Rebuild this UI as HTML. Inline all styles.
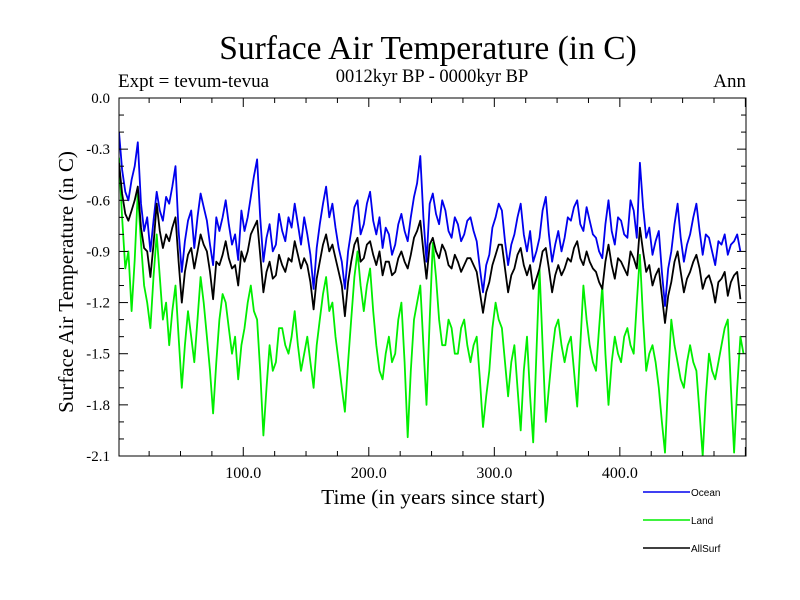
<!DOCTYPE html>
<html><head><meta charset="utf-8"><style>
body{margin:0;background:#fff;}
svg{display:block;font-family:"Liberation Serif",serif;}
</style></head><body>
<svg id="chart" width="800" height="600">
<defs><clipPath id="clip"><rect x="119" y="98" width="627" height="358"/></clipPath></defs>
<text x="428" y="59" font-size="33.5" text-anchor="middle">Surface Air Temperature (in C)</text>
<text x="118" y="87" font-size="19">Expt = tevum-tevua</text>
<text x="432" y="82" font-size="18.5" text-anchor="middle">0012kyr BP - 0000kyr BP</text>
<text x="746" y="87" font-size="19" text-anchor="end">Ann</text>
<text transform="translate(73,282) rotate(-90)" font-size="21" text-anchor="middle">Surface Air Temperature (in C)</text>
<text x="433" y="504" font-size="21.5" text-anchor="middle">Time (in years since start)</text>
<g id="plot"></g>
<g id="legend" font-family="Liberation Sans, sans-serif" font-size="10"></g>
</svg>
<script>
const ocean=[-0.20,-0.42,-0.55,-0.60,-0.48,-0.40,-0.26,-0.62,-0.78,-0.70,-0.90,-0.72,-0.55,-0.66,-0.72,-0.58,-0.62,-0.52,-0.40,-0.78,-1.02,-0.84,-0.72,-0.66,-0.88,-0.70,-0.56,-0.64,-0.72,-0.86,-0.98,-0.70,-0.78,-0.70,-0.60,-0.74,-0.86,-0.80,-0.95,-0.66,-0.78,-0.70,-0.58,-0.46,-0.36,-0.70,-0.96,-0.82,-0.74,-0.90,-0.86,-0.68,-0.78,-0.84,-0.70,-0.76,-0.62,-0.74,-0.86,-0.70,-0.80,-0.92,-1.12,-0.88,-0.74,-0.62,-0.52,-0.70,-0.62,-0.76,-0.88,-0.96,-1.12,-0.90,-0.78,-0.64,-0.60,-0.80,-0.74,-0.62,-0.55,-0.72,-0.80,-0.70,-0.88,-0.76,-0.80,-0.92,-0.86,-0.74,-0.68,-0.78,-0.84,-0.70,-0.58,-0.50,-0.34,-0.70,-0.96,-0.62,-0.56,-0.68,-0.74,-0.60,-0.66,-0.78,-0.82,-0.70,-0.74,-0.84,-0.80,-0.72,-0.70,-0.78,-0.84,-1.00,-1.14,-0.98,-0.92,-0.76,-0.70,-0.62,-0.66,-0.84,-0.98,-0.86,-0.80,-0.70,-0.62,-0.80,-0.90,-0.78,-0.96,-0.90,-0.82,-0.66,-0.58,-0.80,-0.96,-0.86,-0.78,-0.90,-0.82,-0.70,-0.72,-0.64,-0.60,-0.74,-0.78,-0.64,-0.72,-0.80,-0.82,-0.90,-0.94,-0.74,-0.60,-0.78,-0.86,-0.70,-0.72,-0.80,-0.82,-0.60,-0.66,-0.82,-0.38,-0.64,-0.82,-0.76,-0.92,-0.84,-0.78,-1.02,-1.22,-1.00,-0.90,-0.74,-0.62,-0.82,-0.96,-0.86,-0.80,-0.70,-0.62,-0.78,-0.92,-0.80,-0.82,-0.90,-0.98,-0.84,-0.86,-0.80,-0.92,-0.86,-0.84,-0.80,-0.90];
const allsurf=[-0.38,-0.56,-0.68,-0.72,-0.66,-0.60,-0.52,-0.76,-0.88,-0.90,-1.05,-0.86,-0.62,-0.78,-0.88,-0.80,-0.84,-0.76,-0.70,-0.96,-1.20,-1.02,-0.92,-0.88,-1.00,-0.90,-0.80,-0.86,-0.90,-1.02,-1.18,-0.96,-0.98,-0.92,-0.84,-0.94,-1.00,-0.98,-1.10,-0.90,-0.96,-0.90,-0.80,-0.76,-0.72,-0.92,-1.14,-1.02,-0.96,-1.06,-1.04,-0.92,-0.98,-1.02,-0.94,-0.96,-0.84,-0.92,-1.00,-0.94,-0.98,-1.08,-1.24,-1.06,-0.96,-0.86,-0.80,-0.90,-0.86,-0.94,-1.02,-1.10,-1.28,-1.08,-0.96,-0.86,-0.82,-0.96,-0.94,-0.86,-0.84,-0.92,-0.98,-0.90,-1.04,-0.96,-0.96,-1.04,-1.02,-0.94,-0.90,-0.96,-1.00,-0.92,-0.82,-0.78,-0.72,-0.90,-1.06,-0.86,-0.82,-0.90,-0.94,-0.86,-0.90,-0.98,-1.00,-0.92,-0.96,-1.02,-0.98,-0.94,-0.94,-0.98,-1.02,-1.14,-1.26,-1.14,-1.08,-0.98,-0.92,-0.86,-0.86,-1.00,-1.14,-1.04,-1.00,-0.92,-0.88,-0.98,-1.04,-0.98,-1.12,-1.06,-1.00,-0.90,-0.88,-1.00,-1.14,-1.04,-0.98,-1.04,-1.00,-0.94,-0.96,-0.88,-0.84,-0.94,-0.98,-0.90,-0.96,-1.00,-1.02,-1.08,-1.12,-0.96,-0.86,-0.98,-1.06,-0.94,-0.96,-1.00,-1.04,-0.90,-0.94,-1.00,-0.76,-0.90,-1.02,-0.98,-1.10,-1.04,-1.00,-1.16,-1.32,-1.16,-1.08,-0.96,-0.90,-1.02,-1.14,-1.06,-1.02,-0.96,-0.92,-1.00,-1.12,-1.06,-1.04,-1.10,-1.20,-1.08,-1.06,-1.02,-1.16,-1.08,-1.04,-1.02,-1.18];
const land=[-0.35,-0.70,-1.00,-0.90,-1.25,-0.95,-0.55,-0.85,-1.10,-1.20,-1.35,-1.05,-0.80,-1.05,-1.30,-1.20,-1.45,-1.25,-1.10,-1.40,-1.70,-1.45,-1.25,-1.40,-1.55,-1.30,-1.05,-1.20,-1.40,-1.60,-1.85,-1.55,-1.30,-1.15,-1.20,-1.35,-1.50,-1.40,-1.65,-1.45,-1.35,-1.20,-1.10,-1.25,-1.30,-1.60,-1.98,-1.70,-1.45,-1.60,-1.55,-1.35,-1.35,-1.45,-1.50,-1.40,-1.25,-1.45,-1.60,-1.50,-1.40,-1.55,-1.70,-1.45,-1.30,-1.15,-1.05,-1.25,-1.20,-1.40,-1.55,-1.70,-1.84,-1.55,-1.30,-1.05,-0.90,-1.10,-1.25,-1.10,-1.00,-1.25,-1.45,-1.60,-1.65,-1.50,-1.40,-1.55,-1.50,-1.30,-1.20,-1.55,-1.99,-1.60,-1.30,-1.20,-1.10,-1.45,-1.80,-1.30,-0.85,-1.05,-1.30,-1.45,-1.45,-1.30,-1.35,-1.50,-1.50,-1.35,-1.30,-1.45,-1.55,-1.45,-1.40,-1.65,-1.93,-1.75,-1.60,-1.35,-1.20,-1.30,-1.35,-1.55,-1.75,-1.55,-1.45,-1.70,-1.95,-1.60,-1.40,-1.75,-2.02,-1.50,-1.00,-1.45,-1.90,-1.70,-1.50,-1.35,-1.30,-1.45,-1.55,-1.45,-1.40,-1.60,-1.81,-1.45,-1.10,-1.30,-1.45,-1.55,-1.60,-1.35,-1.10,-1.50,-1.80,-1.55,-1.40,-1.50,-1.55,-1.40,-1.35,-1.45,-1.50,-1.20,-0.92,-1.30,-1.60,-1.50,-1.45,-1.55,-1.70,-1.90,-2.08,-1.65,-1.30,-1.45,-1.55,-1.65,-1.70,-1.55,-1.45,-1.55,-1.60,-1.85,-2.10,-1.75,-1.50,-1.60,-1.65,-1.55,-1.45,-1.35,-1.30,-1.70,-2.08,-1.70,-1.40,-1.50];
const yTicks=[0.0,-0.3,-0.6,-0.9,-1.2,-1.5,-1.8,-2.1];
const xTicks=[100,200,300,400];
const legendNames=["Ocean","Land","AllSurf"];
const START_YEAR=1, STEP=2.5;
const NS="http://www.w3.org/2000/svg";
const L=119,R=746,T=98,B=456,X0=1,X1=500.5,Y0=0,Y1=-2.1;
const sx=v=>L+(v-X0)/(X1-X0)*(R-L);
const sy=v=>T+(v-Y0)/(Y1-Y0)*(B-T);
const plot=document.getElementById('plot');
function mk(tag,attrs,parent){const e=document.createElementNS(NS,tag);for(const k in attrs)e.setAttribute(k,attrs[k]);parent.appendChild(e);return e;}
function series(vals,color,name){
  const d=vals.map((v,i)=>(i?'L':'M')+sx(START_YEAR+STEP*i).toFixed(1)+' '+sy(v).toFixed(1)).join(' ');
  const p=mk('path',{d:d,fill:'none',stroke:color,'stroke-width':1.8,'stroke-linejoin':'round','clip-path':'url(#clip)'},plot);
  
  
}
series(land,'#00ee00','land-line');
series(ocean,'#0000ee','ocean-line');
series(allsurf,'#000000','allsurf-line');
const frame=mk('rect',{x:L,y:T,width:R-L,height:B-T,fill:'none',stroke:'#000','stroke-width':1},plot);


for(let k=0;k<=21;k++){
  const v=-k/10,y=sy(v),len=k%3===0?9:5;
  mk('line',{x1:L,x2:L+len,y1:y,y2:y,stroke:'#000'},plot);
  mk('line',{x1:R,x2:R-len,y1:y,y2:y,stroke:'#000'},plot);
}
yTicks.forEach(v=>{
  const t=mk('text',{x:110,y:sy(v)+5,'font-size':15,'text-anchor':'end'},plot);
  t.textContent=v.toFixed(1);
  
  
});
for(let v=25;v<=500;v+=25){
  const x=sx(v),len=v%100===0?9:5;
  mk('line',{x1:x,x2:x,y1:B,y2:B-len,stroke:'#000'},plot);
  mk('line',{x1:x,x2:x,y1:T,y2:T+len,stroke:'#000'},plot);
}
xTicks.forEach(v=>{
  const t=mk('text',{x:sx(v),y:478,'font-size':16,'text-anchor':'middle'},plot);
  t.textContent=v.toFixed(1);
  
  
});
const lg=document.getElementById('legend');
const cols=['#0000ee','#00ee00','#000000'];
legendNames.forEach((n,i)=>{
  const y=492+i*28;
  const g=mk('g',{},lg);
  
  
  mk('line',{x1:643,x2:690,y1:y,y2:y,stroke:cols[i],'stroke-width':1.5},g);
  const t=mk('text',{x:691,y:y+4},g);
  t.textContent=n;
});
</script>
</body></html>
